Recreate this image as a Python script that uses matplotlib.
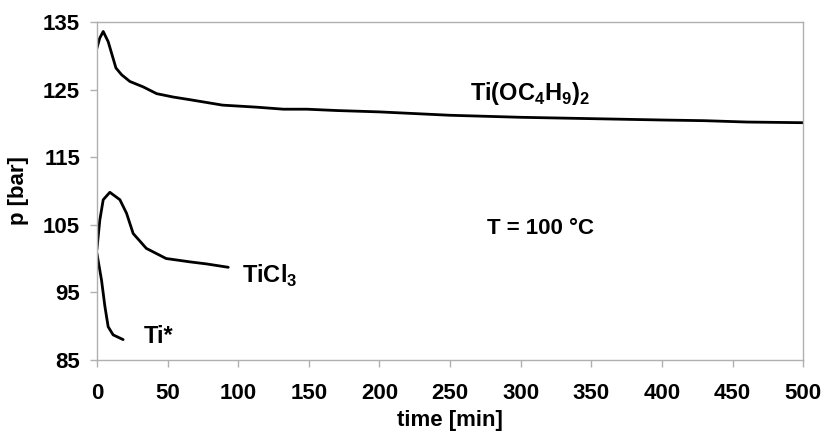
import matplotlib
matplotlib.use('Agg')
import matplotlib.pyplot as plt

plt.rcParams['font.family'] = 'Liberation Sans'
plt.rcParams['font.weight'] = 'bold'
plt.rcParams['mathtext.fontset'] = 'custom'
plt.rcParams['mathtext.rm'] = 'Liberation Sans:bold'
plt.rcParams['mathtext.bf'] = 'Liberation Sans:bold'

# Ti(OC4H9)2
t_buo = [0, 2, 4.5, 8, 10.4, 13.5, 17.5, 23.4, 32.8, 42.3, 54, 66, 89, 113, 132, 148.5, 170,
         200, 250, 300, 350, 400, 430, 460, 500]
p_buo = [131.1, 132.6, 133.6, 132.1, 130.4, 128.2, 127.2, 126.2, 125.4, 124.4, 123.9, 123.5, 122.7,
         122.4, 122.1, 122.1, 121.9, 121.7, 121.2, 120.9, 120.7, 120.5, 120.4, 120.2, 120.1]

# TiCl3
t_cl = [0, 2.1, 4.5, 9.2, 16.3, 21, 25.7, 35, 49, 66, 77.6, 93]
p_cl = [101.3, 105.7, 108.7, 109.8, 108.7, 106.7, 103.7, 101.5, 100.0, 99.5, 99.2, 98.7]

# Ti*
t_ti = [0, 3.3, 5.7, 8, 11.5, 18.6]
p_ti = [100.8, 96.8, 92.9, 89.9, 88.7, 88.0]

fig = plt.figure(figsize=(8.35, 4.32), dpi=100)
ax = fig.add_axes([0.116, 0.167, 0.846, 0.782])

for t, p in [(t_buo, p_buo), (t_cl, p_cl), (t_ti, p_ti)]:
    ax.plot(t, p, color='black', lw=2.0, solid_joinstyle='round', solid_capstyle='round')

ax.set_xlim(0, 500)
ax.set_ylim(85, 135)
ax.set_xticks(range(0, 501, 50))
ax.set_yticks(range(85, 136, 10))

for s in ax.spines.values():
    s.set_color('#b0b0b0')
    s.set_linewidth(1.0)
ax.tick_params(colors='#b0b0b0', labelcolor='black', labelsize=16, length=5, width=1,
               direction='out')
ax.tick_params(axis='x', pad=12)
ax.tick_params(axis='y', pad=7)

ax.set_xlabel('time [min]', fontsize=16, fontweight='bold', labelpad=4)
ax.set_ylabel('p [bar]', fontsize=16, fontweight='bold', labelpad=10)

ax.text(264, 124.4, r'Ti(OC$_{4}$H$_{9}$)$_{2}$', fontsize=17, fontweight='bold', va='center')
ax.text(314, 104.4, 'T = 100 °C', fontsize=16, fontweight='bold', ha='center', va='center')
ax.text(103, 97.4, r'TiCl$_{3}$', fontsize=17, fontweight='bold', va='center')
ax.text(33, 88.4, 'Ti*', fontsize=17, fontweight='bold', va='center')

fig.savefig('out.png', dpi=100)
